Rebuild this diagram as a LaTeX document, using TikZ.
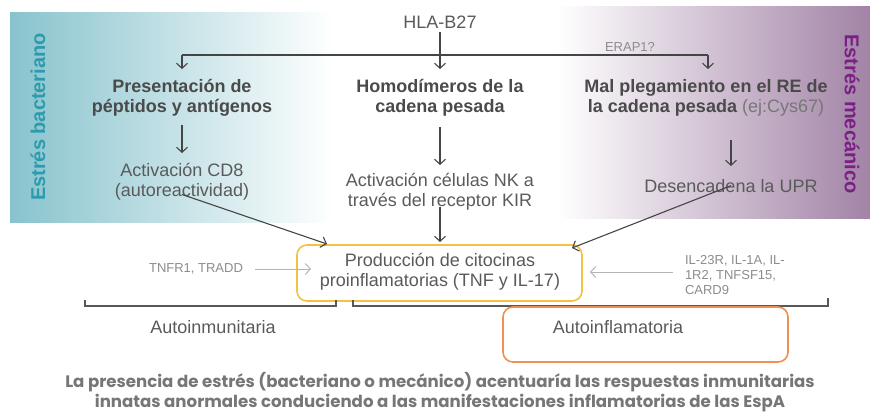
\documentclass[tikz,border=0pt]{standalone}
\usepackage{fontspec}
\setmainfont{Liberation Sans}
\newfontfamily\botfont{Poppins}
\usetikzlibrary{arrows.meta}
\definecolor{dark}{HTML}{454545}
\definecolor{txt}{HTML}{5A5A5A}
\definecolor{ttl}{HTML}{4A4A4A}
\definecolor{lab}{HTML}{8C8C8C}
\definecolor{labarrow}{HTML}{B4B4B4}
\definecolor{tealbg}{HTML}{88C3CD}
\definecolor{tealtx}{HTML}{2C9BAD}
\definecolor{purbg}{HTML}{A283A6}
\definecolor{purtx}{HTML}{7A1F83}
\definecolor{yel}{HTML}{F5C240}
\definecolor{ora}{HTML}{EF9050}
\definecolor{bottx}{HTML}{767676}
\begin{document}
\begin{tikzpicture}[x=1pt,y=-1pt,
  every node/.style={inner sep=0pt, outer sep=0pt},
  body/.style={font=\fontsize{18}{20}\selectfont, text=txt, align=center},
  ttlstyle/.style={font=\fontsize{18}{20}\selectfont\bfseries, text=ttl, align=center},
  small/.style={font=\fontsize{13}{15}\selectfont, text=lab},
  side/.style={font=\fontsize{20}{22}\selectfont\bfseries},
  arr/.style={draw=dark, line width=1.1pt, -{Straight Barb[length=5pt,width=11pt,line width=1.1pt]}},
  garr/.style={draw=labarrow, line width=1pt, -{Straight Barb[length=5pt,width=11pt,line width=1pt]}},
  brk/.style={draw=dark!90, line width=1.2pt},
  rbox/.style={rounded corners=10pt, line width=1.6pt}
]
\useasboundingbox (0,0) rectangle (870,416);
% background panels
\shade[left color=tealbg, right color=white] (10,12) rectangle (333,222);
\shade[left color=white, right color=purbg] (557,6) rectangle (870,218);
\node[side, text=tealtx, rotate=90] (sb) at (38,117) {Estrés bacteriano};
\node[side, text=purtx, rotate=-90] (sm) at (852,114) {Estrés mecánico};
% top
\node[body] (hla) at (440,22) {HLA-B27};
\coordinate (jl) at (182,55);
\coordinate (jm) at (440,55);
\coordinate (jr) at (708,55);
\node[ttlstyle] (t1) at (182,98) {Presentación de\\péptidos y antígenos};
\node[ttlstyle] (t2) at (440,98) {Homodímeros de la\\cadena pesada};
\node[ttlstyle] (t3) at (706,98) {Mal plegamiento en el RE de\\la cadena pesada \mdseries\color{lab!85!black}(ej:Cys67)};
\node[small] (erap) at (630,47) {ERAP1?};
\draw[draw=dark, line width=1.1pt] (jl) -- (jr);
\draw[arr] (jl) -- (182,69);
\draw[arr] (hla.south) ++(0,4) -- (440,69);
\draw[arr] (jr) -- (708,69);
% second level
\node[body] (a1) at (182,182) {Activación CD8\\(autoreactividad)};
\node[body] (a2) at (440,192) {Activación células NK a\\través del receptor KIR};
\node[body] (a3) at (731,186) {Desencadena la UPR};
\draw[arr] (182,125) -- (182,153);
\draw[arr] (440,127) -- (440,165);
\draw[arr] (731,140) -- (731,166);
% cytokine box
\draw[yel, rbox] (297,245) rectangle (582,301);
\node[body] (box) at (440,272) {Producción de citocinas\\proinflamatorias (TNF y IL-17)};
\coordinate (boxtop) at (440,245);
\draw[arr] ([yshift=6pt]a1.south) -- (327,244);
\draw[arr] ([yshift=4pt]a2.south) -- (440,242);
\draw[arr] ([yshift=7pt]a3.south) -- (572,248);
% side labels
\node[small] (tnf) at (196,269) {TNFR1, TRADD};
\draw[garr] (255,269) -- (311,269);
\node[small, align=left, anchor=west] (il) at (685,275) {IL-23R, IL-1A, IL-\\1R2, TNFSF15,\\CARD9};
\draw[garr] (il.west) ++(-12,-3) -- (590,272);
% brackets
\draw[brk] (85,300) -- (85,306) -- (336,306) -- (336,300);
\draw[brk] (353,300) -- (353,306) -- (828,306) -- (828,298);
\node[body] (ai) at (213,327) {Autoinmunitaria};
\draw[ora, rbox] (503,307) rectangle (788,362);
\node[body] (af) at (618,327) {Autoinflamatoria};
% bottom text
\node[font=\botfont\fontsize{16.6}{20}\selectfont\bfseries, text=bottx, align=center] (bot) at (440,392)
  {La presencia de estrés (bacteriano o mecánico) acentuaría las respuestas inmunitarias\\innatas anormales conduciendo a las manifestaciones inflamatorias de las EspA};
\end{tikzpicture}
\end{document}
